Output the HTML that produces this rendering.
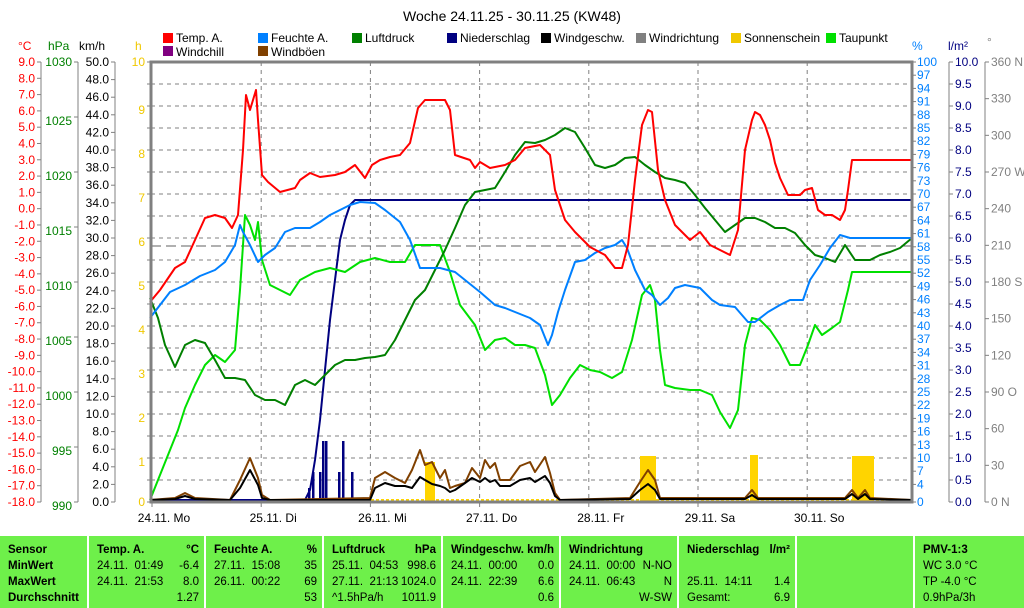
<!DOCTYPE html><html><head><meta charset="utf-8"><style>
body{margin:0;background:#fff;width:1024px;height:608px;overflow:hidden;font-family:"Liberation Sans",sans-serif}
svg{position:absolute;left:0;top:0}
.p{position:absolute;top:536px;height:72px;background:#6ef04a;font-size:11.5px}
.p div{position:absolute;white-space:nowrap}
</style></head><body>
<svg id="s" width="1024" height="536" font-family="Liberation Sans, sans-serif" font-size="12"></svg>
<div id="panel"></div>
<script>
const s=document.getElementById('s');let h='';
const L=151,R=912,T=62,B=502;
h+=`<text x="512" y="21" text-anchor="middle" font-size="14">Woche 24.11.25 - 30.11.25 (KW48)</text>`;
for(let i=1;i<20;i++){let y=T+i*22;h+=`<line x1="${L}" x2="${R}" y1="${y}" y2="${y}" stroke="#808080" stroke-dasharray="4,4"/>`;}
const days=['24.11. Mo','25.11. Di','26.11. Mi','27.11. Do','28.11. Fr','29.11. Sa','30.11. So'];
for(let i=0;i<7;i++){let x=152+i*109.2;if(i>0)h+=`<line x1="${x}" x2="${x}" y1="${T}" y2="${B}" stroke="#808080" stroke-dasharray="4,4"/>`;
h+=`<line x1="${x}" x2="${x}" y1="${B}" y2="${B+5}" stroke="#808080"/><text x="${x+12}" y="522" text-anchor="middle">${days[i]}</text>`;}
h+=`<line x1="${L}" x2="${R}" y1="246" y2="246" stroke="#606060" stroke-dasharray="10,5"/>`;
h+=`<line x1="41" x2="41" y1="${T}" y2="${B}" stroke="#808080"/><line x1="78" x2="78" y1="${T}" y2="${B}" stroke="#808080"/><line x1="115" x2="115" y1="${T}" y2="${B}" stroke="#808080"/>`;
for(let i=0;i<=27;i++){let y=T+i*440/27;h+=`<line x1="37" x2="41" y1="${y}" y2="${y}" stroke="#808080"/><text x="35" y="${y+4}" text-anchor="end" fill="#f00">${(9-i).toFixed(1)}</text>`;}
for(let i=0;i<=8;i++){let y=T+i*55;h+=`<line x1="74" x2="78" y1="${y}" y2="${y}" stroke="#808080"/><text x="72" y="${y+(i==0?4:8)}" text-anchor="end" fill="#008000">${1030-5*i}</text>`;}
for(let i=0;i<=25;i++){let y=T+i*17.6;h+=`<line x1="111" x2="115" y1="${y}" y2="${y}" stroke="#808080"/><text x="109" y="${y+4}" text-anchor="end">${(50-2*i).toFixed(1)}</text>`;}
for(let i=0;i<=20;i++){let y=T+i*22;h+=`<line x1="${L-4}" x2="${L}" y1="${y}" y2="${y}" stroke="#808080"/>`;if(i%2==0)h+=`<text x="145" y="${y+(i==0||i==20?4:8)}" text-anchor="end" fill="#f0c800">${10-i/2}</text>`;}
h+=`<text x="18" y="50" fill="#f00">°C</text><text x="48" y="50" fill="#008000">hPa</text><text x="79" y="50">km/h</text><text x="135" y="50" fill="#f0c800">h</text>`;
h+=`<line x1="949" x2="949" y1="${T}" y2="${B}" stroke="#808080"/><line x1="985" x2="985" y1="${T}" y2="${B}" stroke="#808080"/>`;
for(let v=100;v>=4;v-=3){let y=B-v*4.4;h+=`<line x1="${R}" x2="${R+4}" y1="${y}" y2="${y}" stroke="#808080"/><text x="917" y="${y+4}" fill="#0080ff">${v}</text>`;}
h+=`<line x1="${R}" x2="${R+4}" y1="${B}" y2="${B}" stroke="#808080"/><text x="917" y="506" fill="#0080ff">0</text>`;
for(let i=0;i<=20;i++){let y=T+i*22;h+=`<line x1="949" x2="953" y1="${y}" y2="${y}" stroke="#808080"/><text x="955" y="${y+4}" fill="#000080">${(10-i/2).toFixed(1)}</text>`;}
const dl={360:'360 N',270:'270 W',180:'180 S',90:'90 O',0:'0 N'};
for(let i=0;i<=12;i++){let v=360-30*i,y=T+i*440/12;h+=`<line x1="985" x2="989" y1="${y}" y2="${y}" stroke="#808080"/><text x="991" y="${y+4}" fill="#808080">${dl[v]||v}</text>`;}
h+=`<text x="912" y="50" fill="#0080ff">%</text><text x="948" y="50" fill="#000080">l/m²</text><text x="987" y="46" fill="#808080">°</text>`;
const lg=[[163,'#f00','Temp. A.'],[258,'#0080ff','Feuchte A.'],[352,'#008000','Luftdruck'],[447,'#000080','Niederschlag'],[541,'#000','Windgeschw.'],[636,'#808080','Windrichtung'],[731,'#f0c800','Sonnenschein'],[826,'#00e000','Taupunkt']];
lg.forEach(a=>h+=`<rect x="${a[0]}" y="33" width="10" height="10" fill="${a[1]}"/><text x="${a[0]+13}" y="42">${a[2]}</text>`);
h+=`<rect x="163" y="46" width="10" height="10" fill="#800080"/><text x="176" y="56">Windchill</text><rect x="258" y="46" width="10" height="10" fill="#804000"/><text x="271" y="56">Windböen</text>`;
[[425,435,462],[640,656,456],[750,758,455],[852,874,456]].forEach(b=>h+=`<rect x="${b[0]}" y="${b[2]}" width="${b[1]-b[0]}" height="${B-b[2]}" fill="#ffd400"/>`);
h+=`<line x1="${L}" x2="${R}" y1="500" y2="500" stroke="#ffd400" stroke-width="2" stroke-dasharray="3,2"/>`;
[[308,488],[312,472],[319,472],[322,441],[325,441],[338,472],[342,441],[351,472]].forEach(b=>h+=`<rect x="${b[0]}" y="${b[1]}" width="2.5" height="${B-b[1]}" fill="#000080"/>`);
function pl(pts,col,w){h+=`<polyline fill="none" stroke="${col}" stroke-width="${w||2}" stroke-linejoin="round" points="${pts}"/>`;}
pl("150,500 305,500 310,490 315,460 320,420 325,370 330,320 335,280 340,240 345,220 350,205 355,200 912,200","#000080");
pl("150,500 175,498 185,493 195,498 230,500 240,480 250,458 258,478 262,495 270,500 370,498 375,478 385,472 395,478 405,483 412,470 420,450 425,465 432,462 440,478 445,470 450,488 455,486 465,483 472,468 480,478 485,460 490,468 495,463 500,480 510,480 520,466 530,462 535,472 545,457 550,473 555,493 560,500 630,498 640,482 648,470 655,480 660,498 745,498 752,490 758,498 845,498 852,490 858,498 865,490 870,498 912,500","#804000");
pl("150,500 175,499 185,496 195,499 230,500 240,488 250,470 258,485 262,498 270,500 370,500 375,488 385,483 395,486 405,486 412,488 420,477 425,480 432,484 440,486 445,488 450,492 455,490 465,483 472,478 480,482 485,478 490,482 495,480 500,486 510,486 520,480 530,478 535,482 545,476 550,483 555,496 560,500 630,499 640,490 648,484 655,490 660,499 745,499 752,495 758,499 845,499 852,494 858,499 865,494 870,499 912,500","#000");
pl("150,500 160,475 170,450 178,430 185,408 195,385 205,365 215,355 225,362 235,350 240,290 245,215 250,225 255,240 258,222 262,260 270,285 280,290 290,295 300,280 315,272 330,268 345,272 360,262 375,258 390,262 405,262 415,245 440,245 450,272 460,305 475,325 485,350 495,340 505,338 515,345 525,345 535,348 545,375 552,405 560,395 570,378 580,365 590,370 600,372 612,378 622,372 632,340 642,295 650,285 655,300 660,350 665,385 675,388 690,390 700,390 712,395 720,412 730,428 738,410 745,345 752,318 760,320 770,330 780,345 790,365 800,365 808,345 815,325 822,335 832,328 840,322 848,290 852,272 912,272","#00e000");
pl("150,298 158,318 165,345 175,367 185,345 195,340 205,343 215,360 225,378 235,378 245,380 255,395 265,400 275,400 285,405 295,385 305,380 315,385 325,375 335,365 345,360 355,360 365,358 375,357 385,355 395,340 405,320 415,300 425,290 435,270 445,250 455,228 465,205 475,192 485,190 495,188 505,172 515,155 525,142 535,143 545,140 555,135 565,128 575,132 585,148 595,165 605,168 615,165 625,158 635,157 645,165 655,172 665,178 675,180 685,183 695,195 705,208 715,220 725,232 735,225 745,218 755,218 765,222 775,228 785,228 795,233 805,245 815,255 825,258 835,262 845,245 855,260 870,260 880,255 890,252 900,248 912,238","#008000");
pl("150,318 160,305 170,292 185,285 200,276 215,270 225,262 235,245 240,225 243,232 250,245 258,262 265,255 275,248 285,232 295,228 310,228 320,222 330,215 340,210 350,205 360,202 375,203 385,210 400,222 410,240 420,268 440,268 455,272 465,280 480,292 495,305 505,308 515,312 530,318 540,325 548,345 552,335 558,312 565,290 575,262 585,260 595,253 605,248 615,245 622,240 627,248 635,270 645,290 652,295 660,305 668,298 675,288 685,285 700,288 712,300 720,305 735,307 748,322 755,322 768,312 780,305 790,300 803,300 810,280 820,265 830,248 840,235 850,238 912,238","#0080ff");
pl("150,302 160,290 175,268 185,262 195,240 205,218 215,215 225,218 232,228 238,215 243,150 246,95 250,110 253,100 256,90 258,120 262,175 268,182 280,192 295,188 300,180 310,173 320,177 335,175 345,172 355,165 365,178 372,165 380,160 390,157 400,155 410,143 418,108 425,100 445,100 450,110 455,155 470,160 475,168 480,162 490,168 505,165 515,160 525,148 540,145 550,155 555,190 565,220 575,232 590,247 605,255 615,268 622,268 628,245 635,180 642,125 648,110 652,112 658,170 665,200 675,225 690,240 700,232 710,245 720,250 730,255 738,230 745,150 752,120 755,112 760,115 765,125 770,140 775,163 780,178 788,195 800,195 805,190 812,188 818,210 825,215 832,215 840,220 845,210 848,190 852,160 912,160","#f00");
h+=`<rect x="${L}" y="${T}" width="${R-L}" height="${B-T}" fill="none" stroke="#808080" stroke-width="3"/>`;
s.innerHTML=h;
const P=[[0,87],[89,204],[206,322],[324,441],[443,559],[561,677],[679,795],[797,913],[915,1024]];
const C=[
[['Sensor','',1],['MinWert','',1],['MaxWert','',1],['Durchschnitt','',1]],
[['Temp. A.','°C',1],['24.11.  01:49','-6.4'],['24.11.  21:53','8.0'],['','1.27']],
[['Feuchte A.','%',1],['27.11.  15:08','35'],['26.11.  00:22','69'],['','53']],
[['Luftdruck','hPa',1],['25.11.  04:53','998.6'],['27.11.  21:13','1024.0'],['^1.5hPa/h','1011.9']],
[['Windgeschw.','km/h',1],['24.11.  00:00','0.0'],['24.11.  22:39','6.6'],['','0.6']],
[['Windrichtung','',1],['24.11.  00:00','N-NO'],['24.11.  06:43','N'],['','W-SW']],
[['Niederschlag','l/m²',1],['',''],['25.11.  14:11','1.4'],['Gesamt:','6.9']],
[],
[['PMV-1:3','',1],['WC 3.0 °C',''],['TP -4.0 °C',''],['0.9hPa/3h','']]];
let ph='';P.forEach((p,i)=>{ph+=`<div class="p" style="left:${p[0]}px;width:${p[1]-p[0]}px">`;
(C[i]||[]).forEach((r,j)=>{let y=8+j*16,fw=r[2]?'bold':'normal';ph+=`<div style="left:8px;top:${y}px;font-weight:${fw};white-space:pre">${r[0]}</div><div style="right:5px;top:${y}px;font-weight:${fw}">${r[1]}</div>`;});
ph+='</div>';});
document.getElementById('panel').innerHTML=ph;
</script></body></html>
